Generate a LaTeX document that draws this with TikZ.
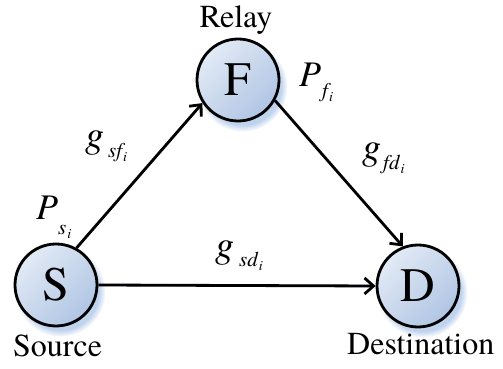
\documentclass[tikz,border=0pt]{standalone}
\usepackage{fontspec}
\setmainfont{texgyretermes-regular.otf}[ItalicFont=texgyretermes-italic.otf, BoldFont=texgyretermes-bold.otf, BoldItalicFont=texgyretermes-bolditalic.otf]
\usetikzlibrary{arrows.meta,shadows}
\definecolor{shadowblue}{RGB}{165,192,230}
\definecolor{topblue}{RGB}{226,234,245}
\definecolor{botblue}{RGB}{176,197,228}
\newcommand\mylbl[5]{#1\kern#4\raisebox{-#5}{\fontsize{21}{21}\selectfont #2\kern1pt\raisebox{-4pt}{\fontsize{14}{14}\selectfont #3}}}
\tikzset{
  circnode/.style={circle, minimum size=82pt, inner sep=0pt, draw=black, line width=2.8pt,
    top color=topblue, bottom color=botblue, shading angle=45,
    circular drop shadow={shadow xshift=4pt, shadow yshift=-6pt, fill=shadowblue, opacity=0.7},
    font=\fontsize{48}{48}\selectfont},
  edgeline/.style={line width=2.8pt, draw=black, -{Straight Barb[length=9pt,width=16pt]}},
  edgeshadow/.style={line width=2.5pt, draw=shadowblue, opacity=0.8, shift={(4pt,-5pt)}},
  caption/.style={font=\fontsize{32}{32}\selectfont, inner sep=0pt},
  glabel/.style={font=\fontsize{38}{38}\selectfont\itshape, inner sep=0pt, anchor=base west},
  plabel/.style={font=\fontsize{36}{36}\selectfont\itshape, inner sep=0pt, anchor=base west}
}
\begin{document}
\begin{tikzpicture}[x=1pt,y=1pt]
\useasboundingbox (0,0) rectangle (503,369);
\node[circnode] (S) at (56,84) {S};
\node[circnode] (F) at (238,289) {F};
\node[circnode] (D) at (418,83) {D};
% shadows of connectors
\draw[edgeshadow] (S.61) -- (F.213);
\draw[edgeshadow] (S.east) -- (D.west);
% connectors
\draw[edgeline] (S.61) -- (F.213);
\draw[edgeline] (F.-29) -- (D.111);
\draw[edgeline] (S.east) -- (D.west);
% captions
\node[caption, anchor=base] (relay) at (236,341) {Relay};
\node[caption, anchor=base west] (source) at (13,12) {Source};
\node[caption, anchor=base west] (dest) at (347,14) {Destination};
% labels
\node[plabel] (ps) at (36,149) {\mylbl{P}{s}{i}{0pt}{15pt}};
\node[plabel] (pf) at (299,282) {\mylbl{P}{f}{i}{1pt}{11pt}};
\node[glabel] (gsf) at (85,221) {\mylbl{g}{sf}{i}{4pt}{10pt}};
\node[glabel] (gfd) at (362,209) {\mylbl{g}{fd}{i}{2pt}{10pt}};
\node[glabel] (gsd) at (215,111) {\mylbl{g}{sd}{i}{5pt}{9pt}};
\end{tikzpicture}
\end{document}
